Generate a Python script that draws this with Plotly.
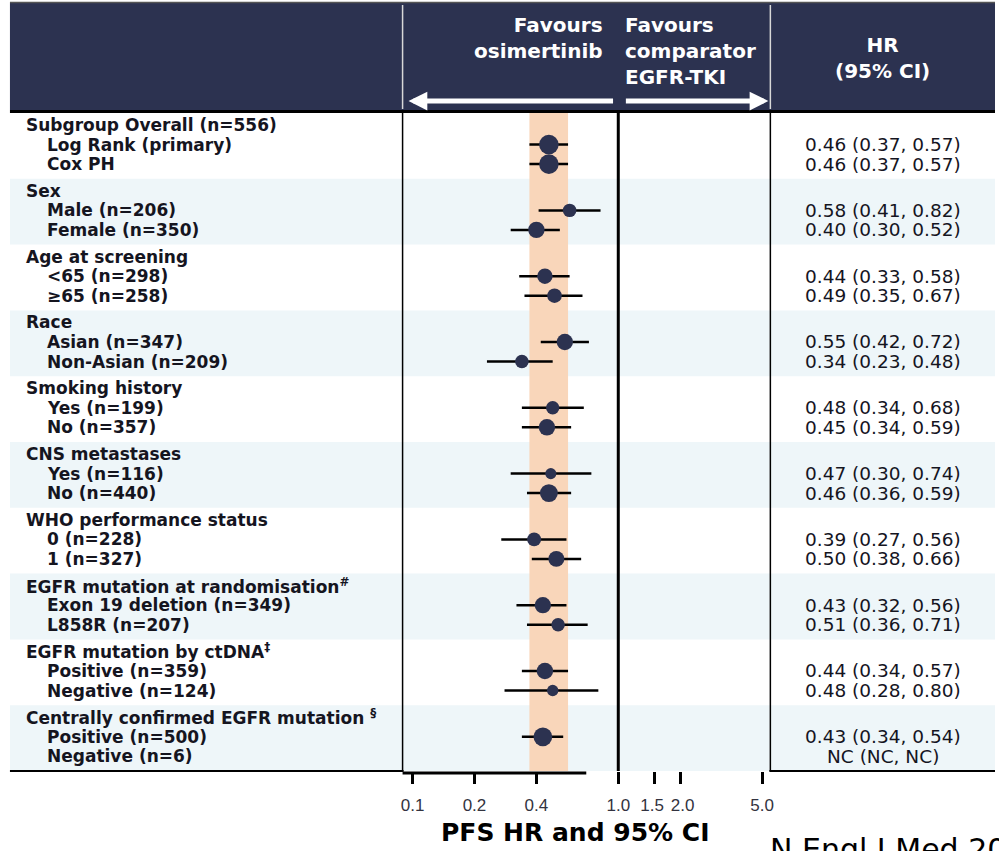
import numpy as np
import plotly.graph_objects as go

# ---- data ---------------------------------------------------------------
group_labels = [
    "Subgroup Overall (n=556)",
    "Sex",
    "Age at screening",
    "Race",
    "Smoking history",
    "CNS metastases",
    "WHO performance status",
    "EGFR mutation at randomisation<sup>#</sup>",
    "EGFR mutation by ctDNA<sup>‡</sup>",
    "Centrally confirmed EGFR mutation <sup>§</sup>",
]
sub_labels = [
    "Log Rank (primary)", "Cox PH",
    "Male (n=206)", "Female (n=350)",
    "&lt;65 (n=298)", "≥65 (n=258)",
    "Asian (n=347)", "Non-Asian (n=209)",
    "Yes (n=199)", "No (n=357)",
    "Yes (n=116)", "No (n=440)",
    "0 (n=228)", "1 (n=327)",
    "Exon 19 deletion (n=349)", "L858R (n=207)",
    "Positive (n=359)", "Negative (n=124)",
    "Positive (n=500)", "Negative (n=6)",
]
n_patients = [556, 556, 206, 350, 298, 258, 347, 209, 199, 357,
              116, 440, 228, 327, 349, 207, 359, 124, 500, 6]
hr = [0.46, 0.46, 0.58, 0.40, 0.44, 0.49, 0.55, 0.34, 0.48, 0.45,
      0.47, 0.46, 0.39, 0.50, 0.43, 0.51, 0.44, 0.48, 0.43, None]
ci_low = [0.37, 0.37, 0.41, 0.30, 0.33, 0.35, 0.42, 0.23, 0.34, 0.34,
          0.30, 0.36, 0.27, 0.38, 0.32, 0.36, 0.34, 0.28, 0.34, None]
ci_high = [0.57, 0.57, 0.82, 0.52, 0.58, 0.67, 0.72, 0.48, 0.68, 0.59,
           0.74, 0.59, 0.56, 0.66, 0.56, 0.71, 0.57, 0.80, 0.54, None]
tick_values = [0.1, 0.2, 0.4, 1.0, 1.5, 2.0, 5.0]
tick_labels = ["0.1", "0.2", "0.4", "1.0", "1.5", "2.0", "5.0"]
overall_ci = (ci_low[0], ci_high[0])

# ---- styling --------------------------------------------------------------
W, H = 999, 851
NAVY = "#2C3250"
BAND = "#EEF6F9"
PEACH = "#F9D6BA"
TEXT = "#15151F"
FONT = "DejaVu Sans"
NBSP = "\u00a0"


def fx(p):
    return p / W


def fy(p):
    return 1 - p / H


n_groups = len(group_labels)
group_top = np.arange(n_groups) * 3.0
header_y = group_top + 0.55
sub_y = np.repeat(group_top, 2) + np.tile([1.44, 2.33], n_groups)

# nudge the two crowded labels apart (1.5 leftwards, 2.0 rightwards)
tick_text = list(tick_labels)
tick_text[tick_values.index(1.5)] = tick_labels[tick_values.index(1.5)] + NBSP
tick_text[tick_values.index(2.0)] = NBSP + tick_labels[tick_values.index(2.0)]

fig = go.Figure()

# reference band spanning the overall confidence interval
fig.add_trace(go.Scatter(
    x=[overall_ci[0], overall_ci[1], overall_ci[1], overall_ci[0], overall_ci[0]],
    y=[0, 0, 3 * n_groups, 3 * n_groups, 0],
    fill="toself", fillcolor=PEACH, line=dict(width=0),
    mode="lines", hoverinfo="skip", showlegend=False))

# line of no effect
fig.add_trace(go.Scatter(
    x=[1, 1], y=[0, 3 * n_groups], mode="lines",
    line=dict(color="black", width=3), hoverinfo="skip", showlegend=False))

# confidence interval whiskers
wx, wy = [], []
for lo, hi, yy in zip(ci_low, ci_high, sub_y):
    if lo is None:
        continue
    wx += [lo, hi, None]
    wy += [yy, yy, None]
fig.add_trace(go.Scatter(
    x=wx, y=wy, mode="lines", line=dict(color="black", width=2.5),
    hoverinfo="skip", showlegend=False))

# point estimates, sized by subgroup size
mx, my, ms = [], [], []
for h, n, yy in zip(hr, n_patients, sub_y):
    if h is None:
        continue
    mx.append(h)
    my.append(yy)
    ms.append(4 + 0.66 * np.sqrt(n))
fig.add_trace(go.Scatter(
    x=mx, y=my, mode="markers",
    marker=dict(size=ms, color=NAVY, opacity=1, line=dict(width=0)),
    showlegend=False))

shapes = []
# alternating group bands
for g in range(n_groups):
    if g % 2 == 1:
        shapes.append(dict(type="rect", xref="paper", yref="y",
                           x0=fx(8), x1=1, y0=group_top[g], y1=group_top[g] + 3,
                           fillcolor=BAND, line=dict(width=0), layer="below"))
# header block
shapes.append(dict(type="rect", xref="paper", yref="paper",
                   x0=fx(8), x1=1, y0=fy(110), y1=fy(3),
                   fillcolor=NAVY, line=dict(width=0), layer="below"))
shapes.append(dict(type="line", xref="paper", yref="paper",
                   x0=fx(8), x1=1, y0=fy(2.5), y1=fy(2.5),
                   line=dict(color="#555555", width=1.5)))
for xp in (403, 773):
    shapes.append(dict(type="line", xref="paper", yref="paper",
                       x0=fx(xp), x1=fx(xp), y0=fy(109), y1=fy(5),
                       line=dict(color="#D8D8D8", width=1.5)))
    shapes.append(dict(type="line", xref="paper", yref="paper",
                       x0=fx(xp), x1=fx(xp), y0=fy(771), y1=fy(112),
                       line=dict(color="black", width=1.5)))
shapes.append(dict(type="line", xref="paper", yref="paper",
                   x0=fx(8), x1=1, y0=fy(111.5), y1=fy(111.5),
                   line=dict(color="black", width=3)))
# bottom rules of the label and value panels
for x0, x1 in ((8, 404), (772, 999)):
    shapes.append(dict(type="line", xref="paper", yref="paper",
                       x0=fx(x0), x1=fx(x1), y0=fy(771), y1=fy(771),
                       line=dict(color="black", width=2)))
# axis rule between the outer ticks
shapes.append(dict(type="line", xref="x", yref="paper",
                   x0=np.log10(tick_values[0]), x1=np.log10(tick_values[-1]),
                   y0=fy(773), y1=fy(773),
                   line=dict(color="black", width=3)))

annotations = []
for g, lab in enumerate(group_labels):
    annotations.append(dict(
        text=f"<b>{lab}</b>", xref="paper", yref="y", x=fx(22), y=header_y[g],
        xanchor="left", yanchor="middle", showarrow=False,
        font=dict(family=FONT, size=17, color=TEXT)))
for lab, yy in zip(sub_labels, sub_y):
    annotations.append(dict(
        text=f"<b>{lab}</b>", xref="paper", yref="y", x=fx(43), y=yy,
        xanchor="left", yanchor="middle", showarrow=False,
        font=dict(family=FONT, size=17, color=TEXT)))
for h, lo, hi, yy in zip(hr, ci_low, ci_high, sub_y):
    txt = "NC (NC, NC)" if h is None else f"{h:.2f} ({lo:.2f}, {hi:.2f})"
    annotations.append(dict(
        text=txt, xref="paper", yref="y", x=fx(886), y=yy,
        xanchor="center", yanchor="middle", showarrow=False,
        font=dict(family=FONT, size=18.5, color=TEXT)))

# header texts
hdr_font = dict(family=FONT, size=20, color="white")
annotations.append(dict(text="<b>Favours<br>osimertinib</b>", xref="paper", yref="paper",
                        x=fx(607), y=fy(11), xanchor="right", yanchor="top",
                        align="right", showarrow=False, font=hdr_font))
annotations.append(dict(text="<b>Favours<br>comparator<br>EGFR-TKI</b>", xref="paper",
                        yref="paper", x=fx(625), y=fy(11), xanchor="left", yanchor="top",
                        align="left", showarrow=False, font=hdr_font))
annotations.append(dict(text="<b>HR<br>(95% CI)</b>", xref="paper", yref="paper",
                        x=fx(886), y=fy(58), xanchor="center", yanchor="middle",
                        align="center", showarrow=False, font=hdr_font))
# direction arrows
annotations.append(dict(text="", xref="paper", yref="paper", x=fx(409), y=fy(101),
                        ax=206, ay=0, axref="pixel", ayref="pixel", showarrow=True,
                        arrowhead=2, arrowsize=0.75, arrowwidth=5, arrowcolor="white"))
annotations.append(dict(text="", xref="paper", yref="paper", x=fx(771), y=fy(101),
                        ax=-144, ay=0, axref="pixel", ayref="pixel", showarrow=True,
                        arrowhead=2, arrowsize=0.75, arrowwidth=5, arrowcolor="white"))
# axis title and citation
annotations.append(dict(text="<b>PFS HR and 95% CI</b>", xref="paper", yref="paper",
                        x=fx(576), y=fy(832), xanchor="center", yanchor="middle",
                        showarrow=False, font=dict(family=FONT, size=25, color="black")))
annotations.append(dict(text="N Engl J Med 2018", xref="paper", yref="paper",
                        x=fx(771), y=fy(830), xanchor="left", yanchor="top",
                        showarrow=False, font=dict(family=FONT, size=30, color="black")))

fig.update_layout(
    width=W, height=H, autosize=False,
    margin=dict(l=0, r=0, t=0, b=0),
    paper_bgcolor="white", plot_bgcolor="rgba(0,0,0,0)",
    shapes=shapes, annotations=annotations,
    xaxis=dict(type="log", domain=[fx(403), fx(773)],
               range=[(403 - 620) / 207, (773 - 620) / 207],
               tickvals=tick_values, ticktext=tick_text, tickangle=0,
               ticks="outside", ticklen=12, tickwidth=3, tickcolor="black",
               ticklabelstandoff=7,
               tickfont=dict(family="Liberation Sans", size=17, color="#333340"),
               showgrid=False, zeroline=False, showline=False, fixedrange=True),
    yaxis=dict(domain=[fy(771), fy(113)], range=[3 * n_groups, 0],
               autorange=False, visible=False, showgrid=False, zeroline=False,
               fixedrange=True),
)

fig.write_html("out.html", config={"displayModeBar": False, "responsive": False})
